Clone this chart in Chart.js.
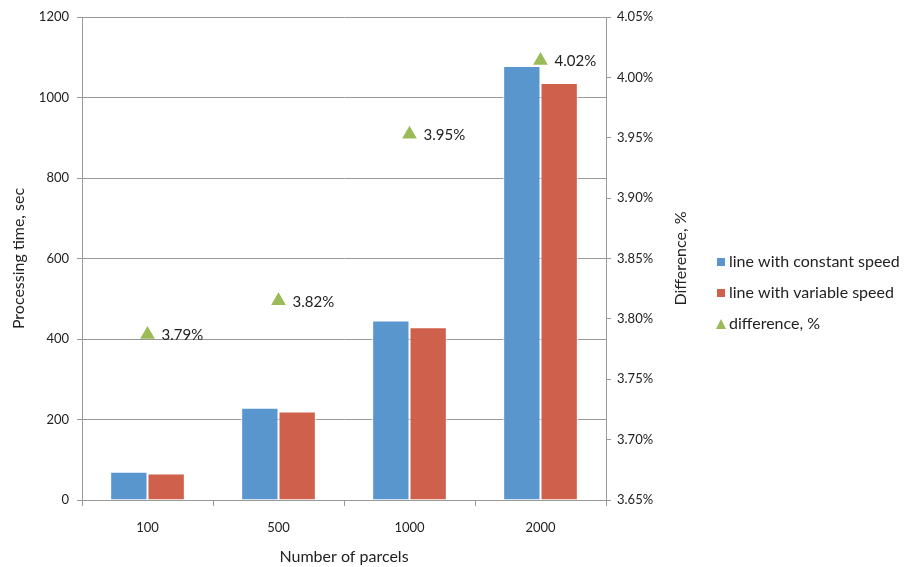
<!DOCTYPE html>
<html><head><meta charset="utf-8">
<script src="https://cdn.jsdelivr.net/npm/chart.js@4"></script>
<style>html,body{margin:0;padding:0;background:#fff}#wrap{width:907px;height:567px}</style>
</head><body><div id="wrap"><canvas id="c" width="907" height="567"></canvas></div>
<script>
const categories = ['100', '500', '1000', '2000'];
const constantSpeed = [70, 229, 446, 1078];
const variableSpeed = [66, 220, 429, 1036];
const differencePct = [3.787, 3.815, 3.953, 4.014];
const differenceLabels = ['3.79%', '3.82%', '3.95%', '4.02%'];
const seriesNames = ['line with constant speed', 'line with variable speed', 'difference, %'];
const yTitle = 'Processing time, sec';
const y2Title = 'Difference, %';
const xTitle = 'Number of parcels';

const FONT = 'Lato, "Open Sans", sans-serif';
const TXT = '#222';
const BLUE = '#5A96CE', RED = '#CF604B', GREEN = '#9BBB59';

const extras = {
  id: 'extras',
  afterDatasetsDraw(chart) {
    const ctx = chart.ctx;
    const meta = chart.getDatasetMeta(2);
    ctx.save();
    ctx.font = '15px ' + FONT;
    ctx.fillStyle = TXT;
    ctx.textAlign = 'left';
    ctx.textBaseline = 'middle';
    meta.data.forEach((pt, i) => {
      ctx.fillText(differenceLabels[i], pt.x + 14, pt.y + 1);
    });
    ctx.restore();
  },
  afterDraw(chart) {
    const ctx = chart.ctx;
    const ca = chart.chartArea;
    ctx.save();
    ctx.font = '16px ' + FONT;
    ctx.fillStyle = TXT;
    ctx.textAlign = 'center';
    ctx.textBaseline = 'middle';
    ctx.translate(ca.right + 75, (ca.top + ca.bottom) / 2);
    ctx.rotate(-Math.PI / 2);
    ctx.fillText(y2Title, 0, 0);
    ctx.restore();
    ctx.save();
    ctx.font = '16px ' + FONT;
    ctx.textAlign = 'left';
    ctx.textBaseline = 'middle';
    const lx = ca.right + 111;
    const rows = [262, 293, 324];
    const colors = [BLUE, RED, GREEN];
    rows.forEach((ry, i) => {
      ctx.fillStyle = colors[i];
      if (i < 2) {
        ctx.fillRect(lx, ry - 4, 8, 8);
      } else {
        ctx.beginPath();
        ctx.moveTo(lx - 1, ry + 5);
        ctx.lineTo(lx + 9, ry + 5);
        ctx.lineTo(lx + 4, ry - 5);
        ctx.closePath();
        ctx.fill();
      }
      ctx.fillStyle = TXT;
      ctx.fillText(seriesNames[i], lx + 12, ry);
    });
    ctx.restore();
  }
};

new Chart(document.getElementById('c'), {
  type: 'bar',
  data: {
    labels: categories,
    datasets: [
      { label: seriesNames[0], data: constantSpeed, backgroundColor: BLUE,
        borderColor: '#ffffff', borderWidth: 1, yAxisID: 'y', order: 2 },
      { label: seriesNames[1], data: variableSpeed, backgroundColor: RED,
        borderColor: '#ffffff', borderWidth: 1, yAxisID: 'y', order: 2 },
      { type: 'line', label: seriesNames[2], data: differencePct, yAxisID: 'y2', showLine: false,
        pointStyle: 'triangle', pointRadius: 8.5, pointHoverRadius: 8.5,
        backgroundColor: GREEN, borderColor: GREEN, borderWidth: 0, order: 1 }
    ]
  },
  options: {
    responsive: false,
    animation: false,
    layout: { padding: { left: 0, right: 201, top: 17, bottom: 0 } },
    datasets: { bar: { categoryPercentage: 0.57, barPercentage: 1.0 } },
    plugins: {
      legend: { display: false },
      tooltip: { enabled: false }
    },
    scales: {
      x: {
        afterFit: s => { s.height = 67; },
        grid: { offset: true, drawOnChartArea: false, tickLength: 6, color: '#999' },
        border: { color: '#999' },
        ticks: { font: { family: FONT, size: 13 }, color: TXT, padding: 14 },
        title: { display: true, text: xTitle, font: { family: FONT, size: 16 }, color: TXT, padding: { top: 1, bottom: 1 } }
      },
      y: {
        position: 'left', min: 0, max: 1200,
        afterFit: s => { s.width = 82; },
        ticks: { stepSize: 200, font: { family: FONT, size: 13 }, color: TXT, padding: 8,
          callback: v => String(v) },
        grid: { color: '#999', tickLength: 5 },
        border: { color: '#999' },
        title: { display: true, text: yTitle, font: { family: FONT, size: 16 }, color: TXT, padding: { top: 9, bottom: 0 } }
      },
      y2: {
        position: 'right', min: 3.65, max: 4.05,
        afterFit: s => { s.width = 100; },
        ticks: { stepSize: 0.05, font: { family: FONT, size: 13 }, color: TXT, padding: 6,
          callback: v => v.toFixed(2) + '%' },
        grid: { drawOnChartArea: false, tickLength: 5, color: '#999' },
        border: { color: '#999' }
      }
    }
  },
  plugins: [extras]
});
</script></body></html>
